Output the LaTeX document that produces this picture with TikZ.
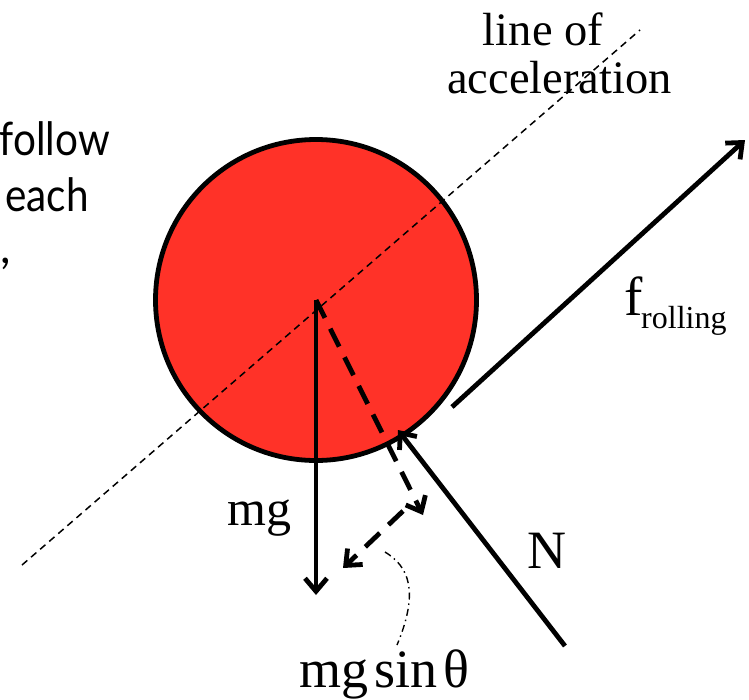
\documentclass[tikz,border=0pt]{standalone}
\usepackage{fontspec}
\usepackage{graphicx}
\setmainfont{Liberation Serif}
\newfontfamily\gillfont{Lato}
\usetikzlibrary{arrows.meta}
\definecolor{ballred}{RGB}{255,50,40}
\tikzset{
  force/.style={line width=4.8pt, -{Straight Barb[length=13pt,width=22pt]}},
  compforce/.style={force, dash pattern=on 20pt off 12pt},
  accline/.style={line width=1.5pt, dash pattern=on 7pt off 5pt},
  pointer/.style={line width=1.4pt, dash pattern=on 7pt off 4pt on 1.5pt off 4pt},
  lbl/.style={inner sep=0pt, anchor=base west},
}
\begin{document}
\begin{tikzpicture}[x=1pt,y=-1pt]
\useasboundingbox (0,0) rectangle (749,699);
\begin{scope}
\clip (0,0) rectangle (749,699);
% fragments of slide text on the left
\node[inner sep=0pt, anchor=base east] (t1) at (110,155) {\gillfont\fontsize{46}{46}\selectfont\scalebox{0.88}[1]{follow}};
\node[inner sep=0pt, anchor=base east] (t2) at (89,211) {\gillfont\fontsize{46}{46}\selectfont\scalebox{0.88}[1]{each}};
\node[inner sep=0pt, anchor=base west] (t3) at (0,263) {\gillfont\fontsize{46}{46}\selectfont ,};

% ball
\node[circle, draw, line width=4.8pt, fill=ballred, minimum size=321pt, inner sep=0pt] (ball) at (316,300) {};
\coordinate (c) at (316,300);

% line of acceleration
\coordinate (la) at (22,565);
\coordinate (lb) at (640,30);
\draw[accline] (la) -- (lb);

% forces
\coordinate (mgtip) at (316,595);
\draw[force] (c) -- (mgtip);

\coordinate (perp) at (423,515);
\draw[compforce] (c) -- (perp);

\coordinate (parS) at (403,511);
\coordinate (parE) at (343,568);
\draw[compforce] (parS) -- (parE);

\coordinate (Nstart) at (565,646);
\coordinate (Ntip) at (398,430);
\draw[force] (Nstart) -- (Ntip);

\coordinate (fstart) at (452,407);
\coordinate (ftip) at (745,140);
\draw[force] (fstart) -- (ftip);

% labels
\node[inner sep=0pt, anchor=base] (lof) at (543,45) {\fontsize{46.5}{48}\selectfont line of};
\node[inner sep=0pt, anchor=base] (acc) at (559.5,93) {\fontsize{46.5}{48}\selectfont acceleration};
\node[lbl] (mglbl) at (227,525) {\fontsize{50}{50}\selectfont mg};
\node[lbl] (Nlbl) at (527,568) {\fontsize{54}{54}\selectfont N};
\node[lbl] (flbl) at (624,315) {\fontsize{55}{55}\selectfont f};
\node[lbl] (fsub) at (641,328) {\fontsize{32}{32}\selectfont rolling};
\node[lbl] (sinlbl) at (299,687) {\fontsize{54}{54}\selectfont mg\kern6pt sin\kern6pt θ};

% pointer from label to component
\coordinate (pa) at (385,552);
\coordinate (pb) at (397,645);
\draw[pointer] (pa) .. controls (408,566) and (420,590) .. (pb);
\end{scope}
\end{tikzpicture}
\end{document}
